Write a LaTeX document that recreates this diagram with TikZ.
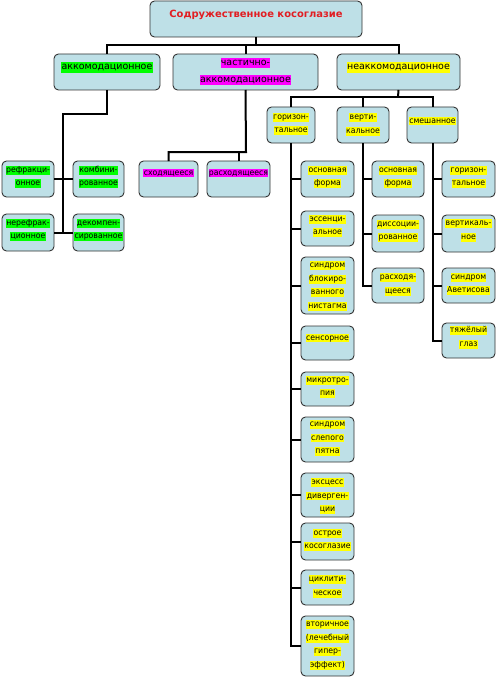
\documentclass[tikz,border=0pt]{standalone}
\usepackage{fontspec}
\setmainfont{DejaVu Sans}
\newfontfamily\narrowfont[FakeStretch=0.95]{DejaVu Sans}
\usetikzlibrary{calc}
\definecolor{boxblue}{RGB}{190,224,231}
\definecolor{hlg}{RGB}{0,255,0}
\definecolor{hlm}{RGB}{255,0,255}
\definecolor{hly}{RGB}{255,255,0}
\definecolor{ttl}{RGB}{225,30,35}
\newcommand\hlt[2]{{\setlength{\fboxsep}{0.3pt}\colorbox{#1}{\rule[-0.24em]{0pt}{1.0em}#2}}}
\newcommand\Gr[1]{\hlt{hlg}{#1}}
\newcommand\Mg[1]{\hlt{hlm}{#1}}
\newcommand\Yl[1]{\hlt{hly}{#1}}
\tikzset{
  box/.style={draw=black!80, line width=0.9bp, fill=boxblue, rounded corners=4.5bp, inner sep=0pt, outer sep=0pt},
  lbl/.style={inner sep=0pt, align=center, font=\narrowfont\fontsize{8.2}{13.5}\selectfont},
  lbltwo/.style={inner sep=0pt, align=center, font=\fontsize{9.5}{17}\selectfont},
  ttlf/.style={inner sep=0pt, align=center, text=ttl, font=\fontsize{10}{12}\selectfont\bfseries},
  conn/.style={line width=2bp, black},
}
\newcommand\bx[8][lbl]{%
  \node[box, minimum width={(#5-#3)*1bp}, minimum height={(#6-#4)*1bp}] (#2) at ({(#3+#5)/2},{(#4+#6)/2}) {};
  \node[#1] (#2-t) at ({(#3+#5)/2},#7) {#8};}
\begin{document}
\begin{tikzpicture}[x=1bp,y=-1bp]
\useasboundingbox (0,0) rectangle (501,677);
\fill[white] (0,0) rectangle (501,677);

% root and level 2
\bx[ttlf]{root}{150}{1}{362}{37}{14.5}{Содружественное косоглазие}
\bx[lbltwo]{a}{54}{54}{160}{90}{67.5}{\Gr{аккомодационное}}
\bx[lbltwo]{b}{173}{54}{318}{90}{71.5}{\Mg{частично-}\\\Mg{аккомодационное}}
\bx[lbltwo]{c}{337}{54}{460}{90}{67.5}{\Yl{неаккомодационное}}

% left group
\bx{d1}{2}{161}{54}{197}{177}{\Gr{рефракци-}\\\Gr{онное}}
\bx{d2}{73}{161}{124}{197}{177}{\Gr{комбини-}\\\Gr{рованное}}
\bx{d3}{2}{214}{54}{251}{230}{\Gr{нерефрак-}\\\Gr{ционное}}
\bx{d4}{73}{214}{124}{251}{230}{\Gr{декомпен-}\\\Gr{сированное}}

% middle group
\bx{e1}{139}{161}{198}{197}{173}{\Mg{сходящееся}}
\bx{e2}{207}{161}{270}{197}{173}{\Mg{расходящееся}}

% right level 3
\bx{f1}{267}{107}{315}{143}{124}{\Yl{горизон-}\\\Yl{тальное}}
\bx{f2}{337}{107}{389}{143}{124.5}{\Yl{верти-}\\\Yl{кальное}}
\bx{f3}{407}{107}{458}{143}{121}{\Yl{смешанное}}

% horizontal column
\bx{g1}{301}{161}{354}{197}{177}{\Yl{основная}\\\Yl{форма}}
\bx{g2}{301}{211}{354}{246}{226}{\Yl{эссенци-}\\\Yl{альное}}
\bx{g3}{301}{257}{354}{314}{286}{\Yl{синдром}\\\Yl{блокиро-}\\\Yl{ванного}\\\Yl{нистагма}}
\bx{g4}{301}{326}{354}{360}{338}{\Yl{сенсорное}}
\bx{g5}{301}{372}{354}{406}{387}{\Yl{микротро-}\\\Yl{пия}}
\bx{g6}{301}{417}{354}{462}{438}{\Yl{синдром}\\\Yl{слепого}\\\Yl{пятна}}
\bx{g7}{301}{473}{354}{517}{496}{\Yl{эксцесс}\\\Yl{диверген-}\\\Yl{ции}}
\bx{g8}{301}{523}{354}{560}{540}{\Yl{острое}\\\Yl{косоглазие}}
\bx{g9}{301}{570}{354}{605}{586.5}{\Yl{циклити-}\\\Yl{ческое}}
\bx{g10}{301}{616}{354}{676}{645}{\Yl{вторичное}\\\Yl{(лечебный}\\\Yl{гипер-}\\\Yl{эффект)}}

% vertical column
\bx{h1}{372}{161}{424}{197}{177}{\Yl{основная}\\\Yl{форма}}
\bx{h2}{372}{215}{424}{252}{231}{\Yl{диссоции-}\\\Yl{рованное}}
\bx{h3}{372}{268}{424}{303}{284.5}{\Yl{расходя-}\\\Yl{щееся}}

% mixed column
\bx{i1}{442}{161}{495}{197}{177}{\Yl{горизон-}\\\Yl{тальное}}
\bx{i2}{442}{215}{495}{252}{230.5}{\Yl{вертикаль-}\\\Yl{ное}}
\bx{i3}{442}{268}{495}{303}{284}{\Yl{синдром}\\\Yl{Аветисова}}
\bx{i4}{442}{323}{495}{358}{337.5}{\Yl{тяжёлый}\\\Yl{глаз}}

% connectors
\coordinate (j0) at (256,45);
\draw[conn] (root.south) -- (j0);
\draw[conn] (a.north) |- (j0) -| (c.north);
\draw[conn] (b.north) -- (b.north|-j0);

\coordinate (ja) at (63,114);
\draw[conn] (a.south) |- (ja) -- (ja|-d3.east);
\draw[conn] (d1.east) -- (d2.west);
\draw[conn] (d3.east) -- (d4.west);

\coordinate (jb) at (246,152);
\draw[conn] (b.south) -- (jb) -| (e1.north);
\draw[conn] (e2.north) -- (e2.north|-jb);

\coordinate (jc) at (398,97);
\draw[conn] (c.south) -- (jc);
\draw[conn] (f1.north) |- (jc) -| (f3.north);
\draw[conn] (f2.north) -- (f2.north|-jc);

\draw[conn] (f1.south) |- (g10.west);
\foreach \n in {g1,g2,g3,g4,g5,g6,g7,g8,g9}
  \draw[conn] (f1.south|-\n.west) -- (\n.west);
\draw[conn] (f2.south) |- (h3.west);
\foreach \n in {h1,h2}
  \draw[conn] (f2.south|-\n.west) -- (\n.west);
\draw[conn] (f3.south) |- (i4.west);
\foreach \n in {i1,i2,i3}
  \draw[conn] (f3.south|-\n.west) -- (\n.west);
\end{tikzpicture}
\end{document}
